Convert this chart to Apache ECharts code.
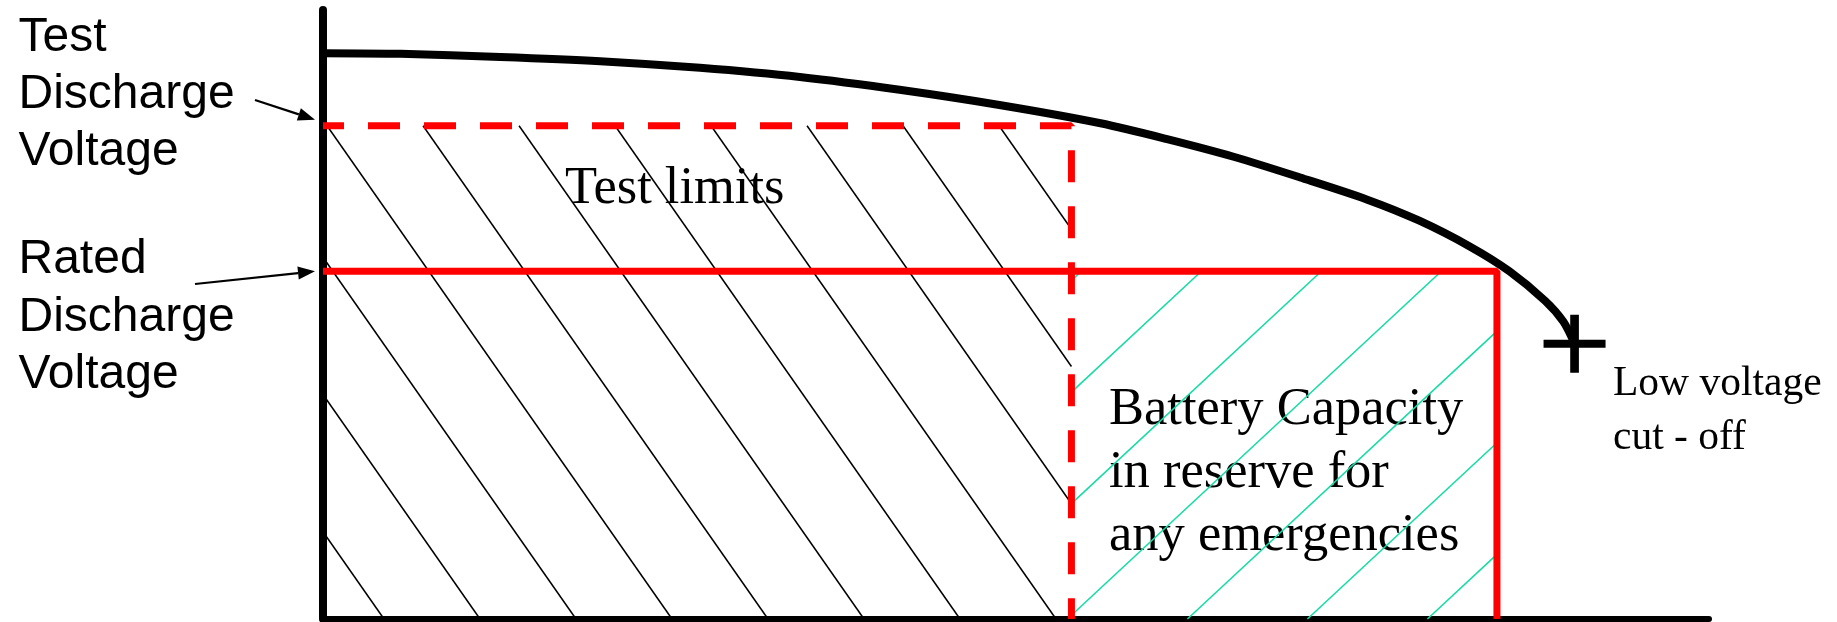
<!DOCTYPE html>
<html>
<head>
<meta charset="utf-8">
<title>Battery discharge</title>
<script src="https://cdn.jsdelivr.net/npm/echarts@6/dist/echarts.min.js"></script>
<style>
  html, body { margin: 0; padding: 0; background: #fff; }
  #main { width: 1837px; height: 622px; }
</style>
</head>
<body>
<div id="main"></div>
<script>
// 放电曲线（横轴：容量，纵轴：电压，均为相对值 0-100）
let capacity = [0, 5.6, 12.8, 20, 27.2, 34.4, 41.6, 48.8, 56.1, 60.9, 65.7, 70.5, 75.3, 79.1, 82.8, 85.6, 88.2, 89.5, 90.3]
let voltage = [92.9, 92.8, 92.3, 91.6, 90.5, 89.0, 86.9, 84.4, 81.4, 78.8, 75.9, 72.5, 68.9, 65.4, 61.1, 57.1, 52.2, 48.8, 45.2]
// 测试放电电压 / 测试截止容量
let testVoltage = 81
let testCapacity = 54
// 额定放电电压 / 额定容量
let ratedVoltage = 57.1
let ratedCapacity = 84.7
// 文字
let testLabel = 'Test\nDischarge\nVoltage'
let ratedLabel = 'Rated\nDischarge\nVoltage'
let testText = 'Test limits'
let reserveText = 'Battery Capacity\nin reserve for\nany emergencies'
let cutoffText = 'Low voltage\ncut - off'

// 低电压截止点 = 曲线最后一点
let last = capacity.length - 1
let cutoffPoint = [capacity[last], voltage[last]]

let chart = echarts.init(document.getElementById('main'))

// 线段裁剪到矩形内 (Liang-Barsky)
function clip(x1, y1, x2, y2, L, T, R, B) {
    let dx = x2 - x1, dy = y2 - y1
    let t0 = 0, t1 = 1
    let p = [-dx, dx, -dy, dy]
    let q = [x1 - L, R - x1, y1 - T, B - y1]
    for (let i = 0; i < 4; i++) {
        if (p[i] === 0) {
            if (q[i] < 0) return null
            continue
        }
        let r = q[i] / p[i]
        if (p[i] < 0) {
            if (r > t1) return null
            if (r > t0) t0 = r
        } else {
            if (r < t0) return null
            if (r < t1) t1 = r
        }
    }
    if (t1 - t0 < 1e-6) return null
    return [x1 + t0 * dx, y1 + t0 * dy, x1 + t1 * dx, y1 + t1 * dy]
}

// 斜线填充 dir=-1 为 "\"，dir=1 为 "/"
function hatch(dir, spacing, offset, slope, color, width) {
    return function (params, api) {
        let p0 = api.coord([api.value(0), api.value(1)])
        let p1 = api.coord([api.value(2), api.value(3)])
        let L = p0[0], B = p0[1], R = p1[0], T = p1[1]
        let run = (B - T) / slope
        let children = []
        let start = L + offset - spacing * Math.ceil((run + 300) / spacing)
        for (let xb = start; xb <= R + run; xb += spacing) {
            let seg = clip(xb, B, xb + dir * run, T, L, T, R, B)
            if (!seg) continue
            children.push({
                type: 'line',
                shape: { x1: seg[0], y1: seg[1], x2: seg[2], y2: seg[3] },
                style: { stroke: color, lineWidth: width }
            })
        }
        return { type: 'group', children: children }
    }
}

const option = {
    animation: false,
    grid: { left: 323, right: 128, top: 10, bottom: 3 },
    xAxis: {
        type: 'value', min: 0, max: 100,
        axisLine: { lineStyle: { color: '#000', width: 6 } },
        axisTick: { show: false },
        axisLabel: { show: false },
        splitLine: { show: false }
    },
    yAxis: {
        type: 'value', min: 0, max: 100,
        axisLine: { show: true, lineStyle: { color: '#000', width: 8 } },
        axisTick: { show: false },
        axisLabel: { show: false },
        splitLine: { show: false }
    },
    series: [
        {
            // 测试区域黑色斜线
            type: 'custom',
            renderItem: hatch(-1, 96, 61, 1.43, '#000', 1.5),
            data: [[0, 0, testCapacity, testVoltage]],
            silent: true,
            z: 1
        },
        {
            // 储备容量绿色斜线
            type: 'custom',
            renderItem: hatch(1, 120, -4, 0.93, '#17dba5', 1.6),
            data: [[testCapacity, 0, ratedCapacity, ratedVoltage]],
            silent: true,
            z: 1
        },
        {
            // 额定电压（实线）
            type: 'line',
            data: [[0, ratedVoltage], [ratedCapacity, ratedVoltage], [ratedCapacity, 0]],
            symbol: 'none',
            lineStyle: { color: '#ff0000', width: 7 },
            z: 3
        },
        {
            // 测试电压（虚线）
            type: 'line',
            data: [[0, testVoltage], [testCapacity, testVoltage], [testCapacity, 0]],
            symbol: 'none',
            lineStyle: { color: '#ff0000', width: 7, type: [32, 24], dashOffset: 11, cap: 'butt' },
            z: 3
        },
        {
            // 放电曲线
            type: 'line',
            data: capacity.map((c, i) => [c, voltage[i]]),
            smooth: 0.3,
            symbol: 'none',
            lineStyle: { color: '#000', width: 8 },
            z: 4
        },
        {
            // 截止点 "+"
            type: 'scatter',
            data: [cutoffPoint],
            symbol: 'path://M0,43L100,43L100,57L0,57Z M43,0L57,0L57,100L43,100Z',
            symbolSize: [62, 58],
            itemStyle: { color: '#000', opacity: 1 },
            z: 5
        }
    ]
}
chart.setOption(option)

// 箭头
function arrow(tail, tip) {
    let dx = tip[0] - tail[0], dy = tip[1] - tail[1]
    let len = Math.sqrt(dx * dx + dy * dy)
    let ux = dx / len, uy = dy / len
    let bx = tip[0] - ux * 17, by = tip[1] - uy * 17
    return [
        { type: 'line', shape: { x1: tail[0], y1: tail[1], x2: bx, y2: by }, style: { stroke: '#000', lineWidth: 2.2 } },
        { type: 'polygon', shape: { points: [tip, [bx - uy * 6.5, by + ux * 6.5], [bx + uy * 6.5, by - ux * 6.5]] }, style: { fill: '#000' } }
    ]
}

let tv = chart.convertToPixel({ gridIndex: 0 }, [0, testVoltage])
let rv = chart.convertToPixel({ gridIndex: 0 }, [0, ratedVoltage])

let sans = 'Liberation Sans'
let serif = 'Liberation Serif'
let graphics = []
graphics.push({ type: 'text', style: { text: testLabel, x: 18.5, y: 9, fontSize: 48, fontFamily: sans, lineHeight: 57, fill: '#000', verticalAlign: 'top' } })
graphics.push({ type: 'text', style: { text: ratedLabel, x: 18.5, y: 231.5, fontSize: 48, fontFamily: sans, lineHeight: 57.5, fill: '#000', verticalAlign: 'top' } })
graphics.push({ type: 'text', style: { text: testText, x: 565, y: 189.5, fontSize: 52.5, fontFamily: serif, fill: '#000', verticalAlign: 'middle' } })
graphics.push({ type: 'text', style: { text: reserveText, x: 1109, y: 379, fontSize: 52.5, fontFamily: serif, lineHeight: 63, fill: '#000', verticalAlign: 'top' } })
graphics.push({ type: 'text', style: { text: cutoffText, x: 1613, y: 357.5, fontSize: 41.5, fontFamily: serif, lineHeight: 54, fill: '#000', verticalAlign: 'top' } })
arrow([255, 100], [tv[0] - 8, tv[1] - 6]).forEach(g => graphics.push(g))
arrow([195, 284], [rv[0] - 8, rv[1]]).forEach(g => graphics.push(g))

chart.setOption({ graphic: graphics })
</script>
</body>
</html>
